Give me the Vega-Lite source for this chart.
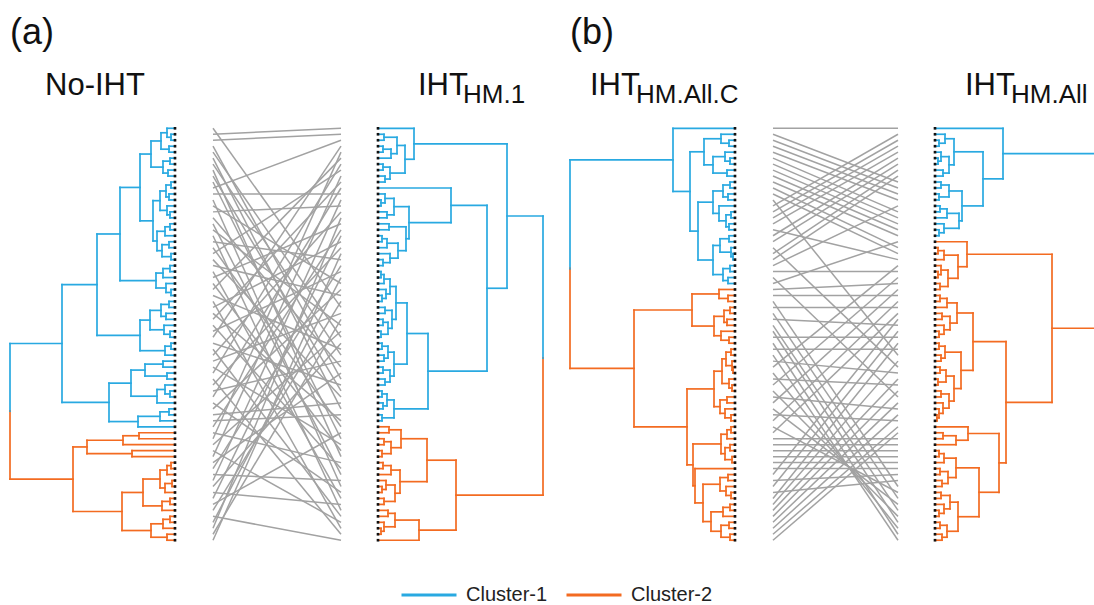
{
"$schema":"https://vega.github.io/schema/vega-lite/v6.json",
"width":1094,"height":605,"padding":0,"autosize":{"type":"none"},
"config":{"view":{"stroke":null},"legend":{"orient":"none","legendX":400,"legendY":566,"direction":"horizontal","symbolType":"stroke","symbolSize":3025,"symbolStrokeWidth":3,"labelFontSize":20,"labelFont":"Liberation Sans","labelColor":"#222","labelOffset":8,"columnPadding":12,"padding":0}},
"datasets":{
"A":[
{"h":4,"ya":1,"yb":2,"ha":0,"hb":0,"c":"Cluster-1"},
{"h":8,"ya":0,"yb":1.5,"ha":0,"hb":4,"c":"Cluster-1"},
{"h":6,"ya":3,"yb":4,"ha":0,"hb":0,"c":"Cluster-1"},
{"h":14,"ya":0.75,"yb":3.5,"ha":8,"hb":6,"c":"Cluster-1"},
{"h":5,"ya":5,"yb":6,"ha":0,"hb":0,"c":"Cluster-1"},
{"h":7,"ya":7,"yb":8,"ha":0,"hb":0,"c":"Cluster-1"},
{"h":12,"ya":5.5,"yb":7.5,"ha":5,"hb":7,"c":"Cluster-1"},
{"h":24,"ya":2.125,"yb":6.5,"ha":14,"hb":12,"c":"Cluster-1"},
{"h":4,"ya":9,"yb":10,"ha":0,"hb":0,"c":"Cluster-1"},
{"h":6,"ya":11,"yb":12,"ha":0,"hb":0,"c":"Cluster-1"},
{"h":9,"ya":9.5,"yb":11.5,"ha":4,"hb":6,"c":"Cluster-1"},
{"h":5,"ya":14,"yb":15,"ha":0,"hb":0,"c":"Cluster-1"},
{"h":8,"ya":13,"yb":14.5,"ha":0,"hb":5,"c":"Cluster-1"},
{"h":15,"ya":10.5,"yb":13.75,"ha":9,"hb":8,"c":"Cluster-1"},
{"h":5,"ya":16,"yb":17,"ha":0,"hb":0,"c":"Cluster-1"},
{"h":10,"ya":16.5,"yb":18,"ha":5,"hb":0,"c":"Cluster-1"},
{"h":6,"ya":19,"yb":20,"ha":0,"hb":0,"c":"Cluster-1"},
{"h":4,"ya":21,"yb":22,"ha":0,"hb":0,"c":"Cluster-1"},
{"h":13,"ya":19.5,"yb":21.5,"ha":6,"hb":4,"c":"Cluster-1"},
{"h":18,"ya":17.25,"yb":20.5,"ha":10,"hb":13,"c":"Cluster-1"},
{"h":22,"ya":12.125,"yb":18.875,"ha":15,"hb":18,"c":"Cluster-1"},
{"h":35,"ya":4.3125,"yb":15.5,"ha":24,"hb":22,"c":"Cluster-1"},
{"h":5,"ya":23,"yb":24,"ha":0,"hb":0,"c":"Cluster-1"},
{"h":12,"ya":23.5,"yb":25,"ha":5,"hb":0,"c":"Cluster-1"},
{"h":4,"ya":27,"yb":28,"ha":0,"hb":0,"c":"Cluster-1"},
{"h":9,"ya":26,"yb":27.5,"ha":0,"hb":4,"c":"Cluster-1"},
{"h":19,"ya":24.25,"yb":26.75,"ha":12,"hb":9,"c":"Cluster-1"},
{"h":55,"ya":9.906,"yb":25.5,"ha":35,"hb":19,"c":"Cluster-1"},
{"h":6,"ya":29,"yb":30,"ha":0,"hb":0,"c":"Cluster-1"},
{"h":9,"ya":31,"yb":32,"ha":0,"hb":0,"c":"Cluster-1"},
{"h":14,"ya":29.5,"yb":31.5,"ha":6,"hb":9,"c":"Cluster-1"},
{"h":5,"ya":34,"yb":35,"ha":0,"hb":0,"c":"Cluster-1"},
{"h":11,"ya":33,"yb":34.5,"ha":0,"hb":5,"c":"Cluster-1"},
{"h":25,"ya":30.5,"yb":33.75,"ha":14,"hb":11,"c":"Cluster-1"},
{"h":4,"ya":36,"yb":37,"ha":0,"hb":0,"c":"Cluster-1"},
{"h":10,"ya":36.5,"yb":38,"ha":4,"hb":0,"c":"Cluster-1"},
{"h":35,"ya":32.125,"yb":37.25,"ha":25,"hb":10,"c":"Cluster-1"},
{"h":78,"ya":17.703,"yb":34.688,"ha":55,"hb":35,"c":"Cluster-1"},
{"h":12,"ya":39,"yb":40,"ha":0,"hb":0,"c":"Cluster-1"},
{"h":8,"ya":41,"yb":42,"ha":0,"hb":0,"c":"Cluster-1"},
{"h":30,"ya":39.5,"yb":41.5,"ha":12,"hb":8,"c":"Cluster-1"},
{"h":5,"ya":44,"yb":45,"ha":0,"hb":0,"c":"Cluster-1"},
{"h":10,"ya":43,"yb":44.5,"ha":0,"hb":5,"c":"Cluster-1"},
{"h":18,"ya":43.75,"yb":46,"ha":10,"hb":0,"c":"Cluster-1"},
{"h":44,"ya":40.5,"yb":44.875,"ha":30,"hb":18,"c":"Cluster-1"},
{"h":6,"ya":47,"yb":48,"ha":0,"hb":0,"c":"Cluster-1"},
{"h":15,"ya":47.5,"yb":49,"ha":6,"hb":0,"c":"Cluster-1"},
{"h":37,"ya":48.25,"yb":50,"ha":15,"hb":0,"c":"Cluster-1"},
{"h":66,"ya":42.688,"yb":49.125,"ha":44,"hb":37,"c":"Cluster-1"},
{"h":113,"ya":26.196,"yb":45.906,"ha":78,"hb":66,"c":"Cluster-1"},
{"h":36,"ya":51,"yb":52,"ha":0,"hb":0,"c":"Cluster-2"},
{"h":52,"ya":51.5,"yb":53,"ha":36,"hb":0,"c":"Cluster-2"},
{"h":43,"ya":54,"yb":55,"ha":0,"hb":0,"c":"Cluster-2"},
{"h":88,"ya":52.25,"yb":54.5,"ha":52,"hb":43,"c":"Cluster-2"},
{"h":4,"ya":56,"yb":57,"ha":0,"hb":0,"c":"Cluster-2"},
{"h":8,"ya":56.5,"yb":58,"ha":4,"hb":0,"c":"Cluster-2"},
{"h":3,"ya":59,"yb":60,"ha":0,"hb":0,"c":"Cluster-2"},
{"h":10,"ya":59.5,"yb":61,"ha":3,"hb":0,"c":"Cluster-2"},
{"h":15,"ya":57.25,"yb":60.25,"ha":8,"hb":10,"c":"Cluster-2"},
{"h":5,"ya":62,"yb":63,"ha":0,"hb":0,"c":"Cluster-2"},
{"h":13,"ya":62.5,"yb":64,"ha":5,"hb":0,"c":"Cluster-2"},
{"h":32,"ya":58.75,"yb":63.25,"ha":15,"hb":13,"c":"Cluster-2"},
{"h":5,"ya":65,"yb":66,"ha":0,"hb":0,"c":"Cluster-2"},
{"h":12,"ya":65.5,"yb":67,"ha":5,"hb":0,"c":"Cluster-2"},
{"h":8,"ya":68,"yb":69,"ha":0,"hb":0,"c":"Cluster-2"},
{"h":24,"ya":66.25,"yb":68.5,"ha":12,"hb":8,"c":"Cluster-2"},
{"h":53,"ya":61,"yb":67.375,"ha":32,"hb":24,"c":"Cluster-2"},
{"h":102,"ya":53.375,"yb":64.1875,"ha":88,"hb":53,"c":"Cluster-2"},
{"h":165,"ya":36.05,"yb":47.4,"ha":113,"hb":165,"c":"Cluster-1"},
{"h":165,"ya":47.4,"yb":58.78,"ha":165,"hb":102,"c":"Cluster-2"}
],
"B":[
{"h":6,"ya":1,"yb":2,"ha":0,"hb":0,"c":"Cluster-1"},
{"h":5,"ya":3,"yb":4,"ha":0,"hb":0,"c":"Cluster-1"},
{"h":13,"ya":3.5,"yb":5,"ha":5,"hb":0,"c":"Cluster-1"},
{"h":19,"ya":1.5,"yb":4.25,"ha":6,"hb":13,"c":"Cluster-1"},
{"h":5,"ya":6,"yb":7,"ha":0,"hb":0,"c":"Cluster-1"},
{"h":7,"ya":8,"yb":9,"ha":0,"hb":0,"c":"Cluster-1"},
{"h":12,"ya":6.5,"yb":8.5,"ha":5,"hb":7,"c":"Cluster-1"},
{"h":27,"ya":2.875,"yb":7.5,"ha":19,"hb":12,"c":"Cluster-1"},
{"h":36,"ya":0,"yb":5.1875,"ha":0,"hb":27,"c":"Cluster-1"},
{"h":3,"ya":12,"yb":13,"ha":0,"hb":0,"c":"Cluster-1"},
{"h":7,"ya":11,"yb":12.5,"ha":0,"hb":3,"c":"Cluster-1"},
{"h":9,"ya":14,"yb":15,"ha":0,"hb":0,"c":"Cluster-1"},
{"h":16,"ya":11.75,"yb":14.5,"ha":7,"hb":9,"c":"Cluster-1"},
{"h":11,"ya":16,"yb":17,"ha":0,"hb":0,"c":"Cluster-1"},
{"h":4,"ya":18,"yb":19,"ha":0,"hb":0,"c":"Cluster-1"},
{"h":9,"ya":18.5,"yb":20,"ha":4,"hb":0,"c":"Cluster-1"},
{"h":5,"ya":22,"yb":23,"ha":0,"hb":0,"c":"Cluster-1"},
{"h":12,"ya":21,"yb":22.5,"ha":0,"hb":5,"c":"Cluster-1"},
{"h":20,"ya":19.25,"yb":21.75,"ha":9,"hb":12,"c":"Cluster-1"},
{"h":28,"ya":16.5,"yb":20.5,"ha":11,"hb":20,"c":"Cluster-1"},
{"h":31,"ya":13.125,"yb":18.5,"ha":16,"hb":28,"c":"Cluster-1"},
{"h":73,"ya":10,"yb":15.8125,"ha":0,"hb":31,"c":"Cluster-1"},
{"h":3,"ya":24,"yb":25,"ha":0,"hb":0,"c":"Cluster-1"},
{"h":6,"ya":24.5,"yb":26,"ha":3,"hb":0,"c":"Cluster-1"},
{"h":4,"ya":28,"yb":29,"ha":0,"hb":0,"c":"Cluster-1"},
{"h":8,"ya":27,"yb":28.5,"ha":0,"hb":4,"c":"Cluster-1"},
{"h":12,"ya":25.25,"yb":27.75,"ha":6,"hb":8,"c":"Cluster-1"},
{"h":7,"ya":30,"yb":31,"ha":0,"hb":0,"c":"Cluster-1"},
{"h":5,"ya":32,"yb":33,"ha":0,"hb":0,"c":"Cluster-1"},
{"h":3,"ya":34,"yb":35,"ha":0,"hb":0,"c":"Cluster-1"},
{"h":10,"ya":32.5,"yb":34.5,"ha":5,"hb":3,"c":"Cluster-1"},
{"h":14,"ya":30.5,"yb":33.5,"ha":7,"hb":10,"c":"Cluster-1"},
{"h":18,"ya":26.5,"yb":32,"ha":12,"hb":14,"c":"Cluster-1"},
{"h":4,"ya":36,"yb":37,"ha":0,"hb":0,"c":"Cluster-1"},
{"h":6,"ya":38,"yb":39,"ha":0,"hb":0,"c":"Cluster-1"},
{"h":10,"ya":36.5,"yb":38.5,"ha":4,"hb":6,"c":"Cluster-1"},
{"h":5,"ya":40,"yb":41,"ha":0,"hb":0,"c":"Cluster-1"},
{"h":7,"ya":42,"yb":43,"ha":0,"hb":0,"c":"Cluster-1"},
{"h":12,"ya":40.5,"yb":42.5,"ha":5,"hb":7,"c":"Cluster-1"},
{"h":16,"ya":37.5,"yb":41.5,"ha":10,"hb":12,"c":"Cluster-1"},
{"h":29,"ya":29.25,"yb":39.5,"ha":18,"hb":16,"c":"Cluster-1"},
{"h":4,"ya":44,"yb":45,"ha":0,"hb":0,"c":"Cluster-1"},
{"h":5,"ya":46,"yb":47,"ha":0,"hb":0,"c":"Cluster-1"},
{"h":9,"ya":44.5,"yb":46.5,"ha":4,"hb":5,"c":"Cluster-1"},
{"h":4,"ya":48,"yb":49,"ha":0,"hb":0,"c":"Cluster-1"},
{"h":16,"ya":45.5,"yb":48.5,"ha":9,"hb":4,"c":"Cluster-1"},
{"h":50,"ya":34.375,"yb":47,"ha":29,"hb":16,"c":"Cluster-1"},
{"h":109,"ya":12.906,"yb":40.6875,"ha":73,"hb":50,"c":"Cluster-1"},
{"h":129,"ya":2.594,"yb":26.797,"ha":36,"hb":109,"c":"Cluster-1"},
{"h":11,"ya":50,"yb":51,"ha":0,"hb":0,"c":"Cluster-2"},
{"h":6,"ya":52,"yb":53,"ha":0,"hb":0,"c":"Cluster-2"},
{"h":4,"ya":54,"yb":55,"ha":0,"hb":0,"c":"Cluster-2"},
{"h":13,"ya":52.5,"yb":54.5,"ha":6,"hb":4,"c":"Cluster-2"},
{"h":23,"ya":50.5,"yb":53.5,"ha":11,"hb":13,"c":"Cluster-2"},
{"h":5,"ya":56,"yb":57,"ha":0,"hb":0,"c":"Cluster-2"},
{"h":13,"ya":56.5,"yb":58,"ha":5,"hb":0,"c":"Cluster-2"},
{"h":4,"ya":60,"yb":61,"ha":0,"hb":0,"c":"Cluster-2"},
{"h":8,"ya":59,"yb":60.5,"ha":0,"hb":4,"c":"Cluster-2"},
{"h":6,"ya":62,"yb":63,"ha":0,"hb":0,"c":"Cluster-2"},
{"h":17,"ya":59.75,"yb":62.5,"ha":8,"hb":6,"c":"Cluster-2"},
{"h":22,"ya":57.25,"yb":61.125,"ha":13,"hb":17,"c":"Cluster-2"},
{"h":49,"ya":52,"yb":59.1875,"ha":23,"hb":22,"c":"Cluster-2"},
{"h":10,"ya":64,"yb":65,"ha":0,"hb":0,"c":"Cluster-2"},
{"h":3,"ya":67,"yb":68,"ha":0,"hb":0,"c":"Cluster-2"},
{"h":6,"ya":66,"yb":67.5,"ha":0,"hb":3,"c":"Cluster-2"},
{"h":17,"ya":64.5,"yb":66.75,"ha":10,"hb":6,"c":"Cluster-2"},
{"h":41,"ya":65.625,"yb":69,"ha":17,"hb":0,"c":"Cluster-2"},
{"h":78,"ya":55.594,"yb":67.3125,"ha":49,"hb":41,"c":"Cluster-2"},
{"h":165,"ya":14.695,"yb":38.5,"ha":129,"hb":165,"c":"Cluster-1"},
{"h":165,"ya":38.5,"yb":61.453,"ha":165,"hb":78,"c":"Cluster-2"}
],
"C":[
{"h":6,"ya":2,"yb":3,"ha":0,"hb":0,"c":"Cluster-1"},
{"h":14,"ya":1,"yb":2.5,"ha":0,"hb":6,"c":"Cluster-1"},
{"h":5,"ya":5,"yb":6,"ha":0,"hb":0,"c":"Cluster-1"},
{"h":10,"ya":4,"yb":5.5,"ha":0,"hb":5,"c":"Cluster-1"},
{"h":8,"ya":7,"yb":8,"ha":0,"hb":0,"c":"Cluster-1"},
{"h":22,"ya":4.75,"yb":7.5,"ha":10,"hb":8,"c":"Cluster-1"},
{"h":31,"ya":1.75,"yb":6.125,"ha":14,"hb":22,"c":"Cluster-1"},
{"h":5,"ya":9,"yb":10,"ha":0,"hb":0,"c":"Cluster-1"},
{"h":7,"ya":11,"yb":12,"ha":0,"hb":0,"c":"Cluster-1"},
{"h":12,"ya":9.5,"yb":11.5,"ha":5,"hb":7,"c":"Cluster-1"},
{"h":4,"ya":14,"yb":15,"ha":0,"hb":0,"c":"Cluster-1"},
{"h":6,"ya":16,"yb":17,"ha":0,"hb":0,"c":"Cluster-1"},
{"h":9,"ya":14.5,"yb":16.5,"ha":4,"hb":6,"c":"Cluster-1"},
{"h":16,"ya":13,"yb":15.5,"ha":0,"hb":9,"c":"Cluster-1"},
{"h":22,"ya":10.5,"yb":14.25,"ha":12,"hb":16,"c":"Cluster-1"},
{"h":6,"ya":18,"yb":19,"ha":0,"hb":0,"c":"Cluster-1"},
{"h":2,"ya":21,"yb":22,"ha":0,"hb":0,"c":"Cluster-1"},
{"h":4,"ya":20,"yb":21.5,"ha":0,"hb":2,"c":"Cluster-1"},
{"h":15,"ya":18.5,"yb":20.75,"ha":6,"hb":4,"c":"Cluster-1"},
{"h":5,"ya":23,"yb":24,"ha":0,"hb":0,"c":"Cluster-1"},
{"h":7,"ya":25,"yb":26,"ha":0,"hb":0,"c":"Cluster-1"},
{"h":12,"ya":23.5,"yb":25.5,"ha":5,"hb":7,"c":"Cluster-1"},
{"h":22,"ya":19.625,"yb":24.5,"ha":15,"hb":12,"c":"Cluster-1"},
{"h":37,"ya":12.375,"yb":22.0625,"ha":22,"hb":22,"c":"Cluster-1"},
{"h":45,"ya":3.9375,"yb":17.219,"ha":31,"hb":37,"c":"Cluster-1"},
{"h":62,"ya":0,"yb":10.578,"ha":0,"hb":45,"c":"Cluster-1"},
{"h":7,"ya":28,"yb":29,"ha":0,"hb":0,"c":"Cluster-2"},
{"h":16,"ya":27,"yb":28.5,"ha":0,"hb":7,"c":"Cluster-2"},
{"h":5,"ya":30,"yb":31,"ha":0,"hb":0,"c":"Cluster-2"},
{"h":8,"ya":32,"yb":33,"ha":0,"hb":0,"c":"Cluster-2"},
{"h":11,"ya":30.5,"yb":32.5,"ha":5,"hb":8,"c":"Cluster-2"},
{"h":6,"ya":35,"yb":36,"ha":0,"hb":0,"c":"Cluster-2"},
{"h":14,"ya":34,"yb":35.5,"ha":0,"hb":6,"c":"Cluster-2"},
{"h":21,"ya":31.5,"yb":34.75,"ha":11,"hb":14,"c":"Cluster-2"},
{"h":43,"ya":27.75,"yb":33.125,"ha":16,"hb":21,"c":"Cluster-2"},
{"h":4,"ya":37,"yb":38,"ha":0,"hb":0,"c":"Cluster-2"},
{"h":2,"ya":40,"yb":41,"ha":0,"hb":0,"c":"Cluster-2"},
{"h":3,"ya":39,"yb":40.5,"ha":0,"hb":2,"c":"Cluster-2"},
{"h":9,"ya":37.5,"yb":39.75,"ha":4,"hb":3,"c":"Cluster-2"},
{"h":3,"ya":43,"yb":44,"ha":0,"hb":0,"c":"Cluster-2"},
{"h":6,"ya":42,"yb":43.5,"ha":0,"hb":3,"c":"Cluster-2"},
{"h":13,"ya":38.625,"yb":42.75,"ha":9,"hb":6,"c":"Cluster-2"},
{"h":8,"ya":45,"yb":46,"ha":0,"hb":0,"c":"Cluster-2"},
{"h":4,"ya":48,"yb":49,"ha":0,"hb":0,"c":"Cluster-2"},
{"h":10,"ya":47,"yb":48.5,"ha":0,"hb":4,"c":"Cluster-2"},
{"h":15,"ya":45.5,"yb":47.75,"ha":8,"hb":10,"c":"Cluster-2"},
{"h":21,"ya":40.6875,"yb":46.625,"ha":13,"hb":15,"c":"Cluster-2"},
{"h":4,"ya":50,"yb":51,"ha":0,"hb":0,"c":"Cluster-2"},
{"h":8,"ya":50.5,"yb":52,"ha":4,"hb":0,"c":"Cluster-2"},
{"h":5,"ya":53,"yb":54,"ha":0,"hb":0,"c":"Cluster-2"},
{"h":3,"ya":55,"yb":56,"ha":0,"hb":0,"c":"Cluster-2"},
{"h":10,"ya":53.5,"yb":55.5,"ha":5,"hb":3,"c":"Cluster-2"},
{"h":14,"ya":51.25,"yb":54.5,"ha":8,"hb":10,"c":"Cluster-2"},
{"h":7,"ya":58,"yb":59,"ha":0,"hb":0,"c":"Cluster-2"},
{"h":4,"ya":61,"yb":62,"ha":0,"hb":0,"c":"Cluster-2"},
{"h":9,"ya":60,"yb":61.5,"ha":0,"hb":4,"c":"Cluster-2"},
{"h":15,"ya":58.5,"yb":60.75,"ha":7,"hb":9,"c":"Cluster-2"},
{"h":5,"ya":63,"yb":64,"ha":0,"hb":0,"c":"Cluster-2"},
{"h":12,"ya":63.5,"yb":65,"ha":5,"hb":0,"c":"Cluster-2"},
{"h":6,"ya":66,"yb":67,"ha":0,"hb":0,"c":"Cluster-2"},
{"h":5,"ya":68,"yb":69,"ha":0,"hb":0,"c":"Cluster-2"},
{"h":14,"ya":66.5,"yb":68.5,"ha":6,"hb":5,"c":"Cluster-2"},
{"h":24,"ya":64.25,"yb":67.5,"ha":12,"hb":14,"c":"Cluster-2"},
{"h":32,"ya":59.625,"yb":65.875,"ha":15,"hb":24,"c":"Cluster-2"},
{"h":40,"ya":57,"yb":62.75,"ha":0,"hb":32,"c":"Cluster-2"},
{"h":42,"ya":52.875,"yb":59.875,"ha":14,"hb":40,"c":"Cluster-2"},
{"h":48,"ya":43.656,"yb":56.375,"ha":21,"hb":42,"c":"Cluster-2"},
{"h":101,"ya":30.4375,"yb":50.016,"ha":43,"hb":48,"c":"Cluster-2"},
{"h":165,"ya":5.289,"yb":23.5,"ha":62,"hb":165,"c":"Cluster-1"},
{"h":165,"ya":23.5,"yb":40.227,"ha":165,"hb":101,"c":"Cluster-2"}
],
"D":[
{"h":4,"ya":2,"yb":3,"ha":0,"hb":0,"c":"Cluster-1"},
{"h":10,"ya":1,"yb":2.5,"ha":0,"hb":4,"c":"Cluster-1"},
{"h":3,"ya":5,"yb":6,"ha":0,"hb":0,"c":"Cluster-1"},
{"h":6,"ya":4,"yb":5.5,"ha":0,"hb":3,"c":"Cluster-1"},
{"h":8,"ya":7,"yb":8,"ha":0,"hb":0,"c":"Cluster-1"},
{"h":14,"ya":4.75,"yb":7.5,"ha":6,"hb":8,"c":"Cluster-1"},
{"h":19,"ya":1.75,"yb":6.125,"ha":10,"hb":14,"c":"Cluster-1"},
{"h":6,"ya":9,"yb":10,"ha":0,"hb":0,"c":"Cluster-1"},
{"h":4,"ya":11,"yb":12,"ha":0,"hb":0,"c":"Cluster-1"},
{"h":14,"ya":9.5,"yb":11.5,"ha":6,"hb":4,"c":"Cluster-1"},
{"h":5,"ya":13,"yb":14,"ha":0,"hb":0,"c":"Cluster-1"},
{"h":12,"ya":13.5,"yb":15,"ha":5,"hb":0,"c":"Cluster-1"},
{"h":4,"ya":17,"yb":18,"ha":0,"hb":0,"c":"Cluster-1"},
{"h":9,"ya":16,"yb":17.5,"ha":0,"hb":4,"c":"Cluster-1"},
{"h":24,"ya":14.25,"yb":16.75,"ha":12,"hb":9,"c":"Cluster-1"},
{"h":27,"ya":10.5,"yb":15.5,"ha":14,"hb":24,"c":"Cluster-1"},
{"h":48,"ya":3.9375,"yb":13,"ha":19,"hb":27,"c":"Cluster-1"},
{"h":68,"ya":0,"yb":8.469,"ha":0,"hb":48,"c":"Cluster-1"},
{"h":3,"ya":20,"yb":21,"ha":0,"hb":0,"c":"Cluster-2"},
{"h":9,"ya":20.5,"yb":22,"ha":3,"hb":0,"c":"Cluster-2"},
{"h":3,"ya":24,"yb":25,"ha":0,"hb":0,"c":"Cluster-2"},
{"h":6,"ya":23,"yb":24.5,"ha":0,"hb":3,"c":"Cluster-2"},
{"h":5,"ya":26,"yb":27,"ha":0,"hb":0,"c":"Cluster-2"},
{"h":13,"ya":23.75,"yb":26.5,"ha":6,"hb":5,"c":"Cluster-2"},
{"h":23,"ya":21.25,"yb":25.125,"ha":9,"hb":13,"c":"Cluster-2"},
{"h":32,"ya":19,"yb":23.1875,"ha":0,"hb":23,"c":"Cluster-2"},
{"h":5,"ya":28,"yb":29,"ha":0,"hb":0,"c":"Cluster-2"},
{"h":12,"ya":28.5,"yb":30,"ha":5,"hb":0,"c":"Cluster-2"},
{"h":7,"ya":31,"yb":32,"ha":0,"hb":0,"c":"Cluster-2"},
{"h":4,"ya":34,"yb":35,"ha":0,"hb":0,"c":"Cluster-2"},
{"h":9,"ya":33,"yb":34.5,"ha":0,"hb":4,"c":"Cluster-2"},
{"h":15,"ya":31.5,"yb":33.75,"ha":7,"hb":9,"c":"Cluster-2"},
{"h":22,"ya":29.25,"yb":32.625,"ha":12,"hb":15,"c":"Cluster-2"},
{"h":4,"ya":36,"yb":37,"ha":0,"hb":0,"c":"Cluster-2"},
{"h":6,"ya":38,"yb":39,"ha":0,"hb":0,"c":"Cluster-2"},
{"h":10,"ya":36.5,"yb":38.5,"ha":4,"hb":6,"c":"Cluster-2"},
{"h":5,"ya":40,"yb":41,"ha":0,"hb":0,"c":"Cluster-2"},
{"h":3,"ya":42,"yb":43,"ha":0,"hb":0,"c":"Cluster-2"},
{"h":11,"ya":40.5,"yb":42.5,"ha":5,"hb":3,"c":"Cluster-2"},
{"h":6,"ya":44,"yb":45,"ha":0,"hb":0,"c":"Cluster-2"},
{"h":2,"ya":48,"yb":49,"ha":0,"hb":0,"c":"Cluster-2"},
{"h":4,"ya":47,"yb":48.5,"ha":0,"hb":2,"c":"Cluster-2"},
{"h":8,"ya":46,"yb":47.75,"ha":0,"hb":4,"c":"Cluster-2"},
{"h":14,"ya":44.5,"yb":46.875,"ha":6,"hb":8,"c":"Cluster-2"},
{"h":19,"ya":41.5,"yb":45.6875,"ha":11,"hb":14,"c":"Cluster-2"},
{"h":26,"ya":37.5,"yb":43.594,"ha":10,"hb":19,"c":"Cluster-2"},
{"h":38,"ya":30.9375,"yb":40.547,"ha":22,"hb":26,"c":"Cluster-2"},
{"h":8,"ya":51,"yb":52,"ha":0,"hb":0,"c":"Cluster-2"},
{"h":21,"ya":51.5,"yb":53,"ha":8,"hb":0,"c":"Cluster-2"},
{"h":33,"ya":50,"yb":52.25,"ha":0,"hb":21,"c":"Cluster-2"},
{"h":4,"ya":54,"yb":55,"ha":0,"hb":0,"c":"Cluster-2"},
{"h":9,"ya":54.5,"yb":56,"ha":4,"hb":0,"c":"Cluster-2"},
{"h":5,"ya":57,"yb":58,"ha":0,"hb":0,"c":"Cluster-2"},
{"h":7,"ya":59,"yb":60,"ha":0,"hb":0,"c":"Cluster-2"},
{"h":13,"ya":57.5,"yb":59.5,"ha":5,"hb":7,"c":"Cluster-2"},
{"h":21,"ya":55.25,"yb":58.5,"ha":9,"hb":13,"c":"Cluster-2"},
{"h":6,"ya":61,"yb":62,"ha":0,"hb":0,"c":"Cluster-2"},
{"h":4,"ya":64,"yb":65,"ha":0,"hb":0,"c":"Cluster-2"},
{"h":9,"ya":63,"yb":64.5,"ha":0,"hb":4,"c":"Cluster-2"},
{"h":15,"ya":61.5,"yb":63.75,"ha":6,"hb":9,"c":"Cluster-2"},
{"h":5,"ya":66,"yb":67,"ha":0,"hb":0,"c":"Cluster-2"},
{"h":7,"ya":68,"yb":69,"ha":0,"hb":0,"c":"Cluster-2"},
{"h":12,"ya":66.5,"yb":68.5,"ha":5,"hb":7,"c":"Cluster-2"},
{"h":23,"ya":62.625,"yb":67.5,"ha":15,"hb":12,"c":"Cluster-2"},
{"h":44,"ya":56.875,"yb":65.0625,"ha":21,"hb":23,"c":"Cluster-2"},
{"h":64,"ya":51.125,"yb":60.969,"ha":33,"hb":44,"c":"Cluster-2"},
{"h":71,"ya":35.742,"yb":56.047,"ha":38,"hb":64,"c":"Cluster-2"},
{"h":117,"ya":21.094,"yb":45.895,"ha":32,"hb":71,"c":"Cluster-2"},
{"h":200,"ya":4.234,"yb":18.9,"ha":68,"hb":200,"c":"Cluster-1"},
{"h":200,"ya":18.9,"yb":33.494,"ha":200,"hb":117,"c":"Cluster-2"}
],
"t1":[
{"a":0,"b":30},{"a":1,"b":0},{"a":2,"b":1},{"a":3,"b":42},{"a":4,"b":35},{"a":5,"b":47},{"a":6,"b":38},{"a":7,"b":55},{"a":8,"b":44},{"a":9,"b":52},
{"a":10,"b":2},{"a":11,"b":11},{"a":12,"b":60},{"a":13,"b":26},{"a":14,"b":13},{"a":15,"b":40},{"a":16,"b":58},{"a":17,"b":33},{"a":18,"b":64},{"a":19,"b":22},
{"a":20,"b":50},{"a":21,"b":7},{"a":22,"b":45},{"a":23,"b":28},{"a":24,"b":62},{"a":25,"b":16},{"a":26,"b":54},{"a":27,"b":5},{"a":28,"b":37},{"a":29,"b":67},
{"a":30,"b":19},{"a":31,"b":49},{"a":32,"b":9},{"a":33,"b":57},{"a":34,"b":24},{"a":35,"b":3},{"a":36,"b":43},{"a":37,"b":65},{"a":38,"b":14},{"a":39,"b":31},
{"a":40,"b":53},{"a":41,"b":6},{"a":42,"b":68},{"a":43,"b":20},{"a":44,"b":39},{"a":45,"b":10},{"a":46,"b":61},{"a":47,"b":27},{"a":48,"b":46},{"a":49,"b":48},
{"a":50,"b":17},{"a":51,"b":56},{"a":52,"b":4},{"a":53,"b":34},{"a":54,"b":66},{"a":55,"b":8},{"a":56,"b":41},{"a":57,"b":23},{"a":58,"b":59},{"a":59,"b":12},
{"a":60,"b":36},{"a":61,"b":63},{"a":62,"b":18},{"a":63,"b":51},{"a":64,"b":29},{"a":65,"b":69},{"a":66,"b":25},{"a":67,"b":15},{"a":68,"b":32},{"a":69,"b":21}
],
"t2":[
{"a":0,"b":0},{"a":1,"b":9},{"a":2,"b":10},{"a":3,"b":11},{"a":4,"b":12},{"a":5,"b":14},{"a":6,"b":15},{"a":7,"b":16},{"a":8,"b":17},{"a":9,"b":18},
{"a":10,"b":20},{"a":11,"b":21},{"a":12,"b":38},{"a":13,"b":1},{"a":14,"b":2},{"a":15,"b":3},{"a":16,"b":4},{"a":17,"b":22},{"a":18,"b":5},{"a":19,"b":6},
{"a":20,"b":40},{"a":21,"b":7},{"a":22,"b":8},{"a":23,"b":13},{"a":24,"b":24},{"a":25,"b":45},{"a":26,"b":19},{"a":27,"b":26},{"a":28,"b":28},{"a":29,"b":60},
{"a":30,"b":30},{"a":31,"b":62},{"a":32,"b":33},{"a":33,"b":64},{"a":34,"b":66},{"a":35,"b":35},{"a":36,"b":68},{"a":37,"b":37},{"a":38,"b":69},{"a":39,"b":41},
{"a":40,"b":23},{"a":41,"b":67},{"a":42,"b":43},{"a":43,"b":25},{"a":44,"b":65},{"a":45,"b":47},{"a":46,"b":27},{"a":47,"b":63},{"a":48,"b":49},{"a":49,"b":29},
{"a":50,"b":61},{"a":51,"b":31},{"a":52,"b":52},{"a":53,"b":53},{"a":54,"b":54},{"a":55,"b":55},{"a":56,"b":56},{"a":57,"b":57},{"a":58,"b":32},{"a":59,"b":58},
{"a":60,"b":34},{"a":61,"b":59},{"a":62,"b":36},{"a":63,"b":39},{"a":64,"b":42},{"a":65,"b":44},{"a":66,"b":46},{"a":67,"b":48},{"a":68,"b":50},{"a":69,"b":51}
],
"titles":[
{"t":"A","h":165,"y":-14.2,"s":"(a)","k":"panel"},
{"t":"A","h":130,"y":-5.6,"s":"No-IHT","k":"main"},
{"t":"B","h":40,"y":-5.6,"s":"IHT","k":"main"},
{"t":"B","h":85,"y":-4.3,"s":"HM.1","k":"sub"},
{"t":"C","h":165,"y":-14.2,"s":"(b)","k":"panel"},
{"t":"C","h":145,"y":-5.6,"s":"IHT","k":"main"},
{"t":"C","h":99,"y":-4.3,"s":"HM.All.C","k":"sub"},
{"t":"D","h":30,"y":-5.6,"s":"IHT","k":"main"},
{"t":"D","h":76,"y":-4.3,"s":"HM.All","k":"sub"}
]
},
"layer":[
{"data":{"name":"t1"},"mark":{"type":"rule","color":"#A2A2A2","strokeWidth":1.5},
 "encoding":{"x":{"datum":0,"type":"quantitative","scale":{"domain":[-1.6641,6.8828],"nice":false,"zero":false},"axis":null},"x2":{"datum":1},
 "y":{"field":"a","type":"quantitative","scale":{"domain":[-21.49,79.85],"reverse":true,"nice":false,"zero":false},"axis":null},"y2":{"field":"b"}}},
{"data":{"name":"t2"},"mark":{"type":"rule","color":"#A2A2A2","strokeWidth":1.5},
 "encoding":{"x":{"datum":0,"type":"quantitative","scale":{"domain":[-6.184,2.568],"nice":false,"zero":false},"axis":null},"x2":{"datum":1},
 "y":{"field":"a","type":"quantitative","scale":{"domain":[-21.49,79.85],"reverse":true,"nice":false,"zero":false},"axis":null},"y2":{"field":"b"}}},
{"layer":[
 {"data":{"name":"A"},"mark":{"type":"rule","strokeWidth":1.7,"strokeCap":"square"},"encoding":{"x":{"field":"h","type":"quantitative","scale":{"domain":[-919,175],"reverse":true,"nice":false,"zero":false},"axis":null},"y":{"field":"ya","type":"quantitative","scale":{"domain":[-21.49,79.85],"reverse":true,"nice":false,"zero":false},"axis":null},"y2":{"field":"yb"},"color":{"field":"c","type":"nominal","scale":{"domain":["Cluster-1","Cluster-2"],"range":["#29A9E1","#F36B21"]},"legend":{"title":null}}}},
 {"data":{"name":"A"},"mark":{"type":"rule","strokeWidth":1.7,"strokeCap":"square"},"encoding":{"x":{"field":"ha","type":"quantitative","scale":{"domain":[-919,175],"reverse":true,"nice":false,"zero":false},"axis":null},"x2":{"field":"h"},"y":{"field":"ya","type":"quantitative","scale":{"domain":[-21.49,79.85],"reverse":true,"nice":false,"zero":false},"axis":null},"color":{"field":"c","type":"nominal","scale":{"domain":["Cluster-1","Cluster-2"],"range":["#29A9E1","#F36B21"]},"legend":{"title":null}}}},
 {"data":{"name":"A"},"mark":{"type":"rule","strokeWidth":1.7,"strokeCap":"square"},"encoding":{"x":{"field":"hb","type":"quantitative","scale":{"domain":[-919,175],"reverse":true,"nice":false,"zero":false},"axis":null},"x2":{"field":"h"},"y":{"field":"yb","type":"quantitative","scale":{"domain":[-21.49,79.85],"reverse":true,"nice":false,"zero":false},"axis":null},"color":{"field":"c","type":"nominal","scale":{"domain":["Cluster-1","Cluster-2"],"range":["#29A9E1","#F36B21"]},"legend":{"title":null}}}},
 {"data":{"name":"t1"},"mark":{"type":"square","size":7,"color":"#111","opacity":1},"encoding":{"x":{"datum":0,"type":"quantitative","scale":{"domain":[-919,175],"reverse":true,"nice":false,"zero":false},"axis":null},"y":{"field":"a","type":"quantitative","scale":{"domain":[-21.49,79.85],"reverse":true,"nice":false,"zero":false},"axis":null}}},
 {"data":{"name":"titles"},"transform":[{"filter":"datum.t=='A'"}],"mark":{"type":"text","align":"left","baseline":"alphabetic","font":"Liberation Sans","color":"#111"},"encoding":{"x":{"field":"h","type":"quantitative","scale":{"domain":[-919,175],"reverse":true,"nice":false,"zero":false},"axis":null},"y":{"field":"y","type":"quantitative","scale":{"domain":[-21.49,79.85],"reverse":true,"nice":false,"zero":false},"axis":null},"text":{"field":"s"},"size":{"field":"k","type":"ordinal","scale":{"domain":["panel","main","sub"],"range":[36,26,20]},"legend":null}}}
]},
{"layer":[
 {"data":{"name":"B"},"mark":{"type":"rule","strokeWidth":1.7,"strokeCap":"square"},"encoding":{"x":{"field":"h","type":"quantitative","scale":{"domain":[-378,716],"nice":false,"zero":false},"axis":null},"y":{"field":"ya","type":"quantitative","scale":{"domain":[-21.49,79.85],"reverse":true,"nice":false,"zero":false},"axis":null},"y2":{"field":"yb"},"color":{"field":"c","type":"nominal","scale":{"domain":["Cluster-1","Cluster-2"],"range":["#29A9E1","#F36B21"]},"legend":{"title":null}}}},
 {"data":{"name":"B"},"mark":{"type":"rule","strokeWidth":1.7,"strokeCap":"square"},"encoding":{"x":{"field":"ha","type":"quantitative","scale":{"domain":[-378,716],"nice":false,"zero":false},"axis":null},"x2":{"field":"h"},"y":{"field":"ya","type":"quantitative","scale":{"domain":[-21.49,79.85],"reverse":true,"nice":false,"zero":false},"axis":null},"color":{"field":"c","type":"nominal","scale":{"domain":["Cluster-1","Cluster-2"],"range":["#29A9E1","#F36B21"]},"legend":{"title":null}}}},
 {"data":{"name":"B"},"mark":{"type":"rule","strokeWidth":1.7,"strokeCap":"square"},"encoding":{"x":{"field":"hb","type":"quantitative","scale":{"domain":[-378,716],"nice":false,"zero":false},"axis":null},"x2":{"field":"h"},"y":{"field":"yb","type":"quantitative","scale":{"domain":[-21.49,79.85],"reverse":true,"nice":false,"zero":false},"axis":null},"color":{"field":"c","type":"nominal","scale":{"domain":["Cluster-1","Cluster-2"],"range":["#29A9E1","#F36B21"]},"legend":{"title":null}}}},
 {"data":{"name":"t1"},"mark":{"type":"square","size":7,"color":"#111","opacity":1},"encoding":{"x":{"datum":0,"type":"quantitative","scale":{"domain":[-378,716],"nice":false,"zero":false},"axis":null},"y":{"field":"b","type":"quantitative","scale":{"domain":[-21.49,79.85],"reverse":true,"nice":false,"zero":false},"axis":null}}},
 {"data":{"name":"titles"},"transform":[{"filter":"datum.t=='B'"}],"mark":{"type":"text","align":"left","baseline":"alphabetic","font":"Liberation Sans","color":"#111"},"encoding":{"x":{"field":"h","type":"quantitative","scale":{"domain":[-378,716],"nice":false,"zero":false},"axis":null},"y":{"field":"y","type":"quantitative","scale":{"domain":[-21.49,79.85],"reverse":true,"nice":false,"zero":false},"axis":null},"text":{"field":"s"},"size":{"field":"k","type":"ordinal","scale":{"domain":["panel","main","sub"],"range":[36,26,20]},"legend":null}}}
]},
{"layer":[
 {"data":{"name":"C"},"mark":{"type":"rule","strokeWidth":1.7,"strokeCap":"square"},"encoding":{"x":{"field":"h","type":"quantitative","scale":{"domain":[-359,735],"reverse":true,"nice":false,"zero":false},"axis":null},"y":{"field":"ya","type":"quantitative","scale":{"domain":[-21.49,79.85],"reverse":true,"nice":false,"zero":false},"axis":null},"y2":{"field":"yb"},"color":{"field":"c","type":"nominal","scale":{"domain":["Cluster-1","Cluster-2"],"range":["#29A9E1","#F36B21"]},"legend":{"title":null}}}},
 {"data":{"name":"C"},"mark":{"type":"rule","strokeWidth":1.7,"strokeCap":"square"},"encoding":{"x":{"field":"ha","type":"quantitative","scale":{"domain":[-359,735],"reverse":true,"nice":false,"zero":false},"axis":null},"x2":{"field":"h"},"y":{"field":"ya","type":"quantitative","scale":{"domain":[-21.49,79.85],"reverse":true,"nice":false,"zero":false},"axis":null},"color":{"field":"c","type":"nominal","scale":{"domain":["Cluster-1","Cluster-2"],"range":["#29A9E1","#F36B21"]},"legend":{"title":null}}}},
 {"data":{"name":"C"},"mark":{"type":"rule","strokeWidth":1.7,"strokeCap":"square"},"encoding":{"x":{"field":"hb","type":"quantitative","scale":{"domain":[-359,735],"reverse":true,"nice":false,"zero":false},"axis":null},"x2":{"field":"h"},"y":{"field":"yb","type":"quantitative","scale":{"domain":[-21.49,79.85],"reverse":true,"nice":false,"zero":false},"axis":null},"color":{"field":"c","type":"nominal","scale":{"domain":["Cluster-1","Cluster-2"],"range":["#29A9E1","#F36B21"]},"legend":{"title":null}}}},
 {"data":{"name":"t2"},"mark":{"type":"square","size":7,"color":"#111","opacity":1},"encoding":{"x":{"datum":0,"type":"quantitative","scale":{"domain":[-359,735],"reverse":true,"nice":false,"zero":false},"axis":null},"y":{"field":"a","type":"quantitative","scale":{"domain":[-21.49,79.85],"reverse":true,"nice":false,"zero":false},"axis":null}}},
 {"data":{"name":"titles"},"transform":[{"filter":"datum.t=='C'"}],"mark":{"type":"text","align":"left","baseline":"alphabetic","font":"Liberation Sans","color":"#111"},"encoding":{"x":{"field":"h","type":"quantitative","scale":{"domain":[-359,735],"reverse":true,"nice":false,"zero":false},"axis":null},"y":{"field":"y","type":"quantitative","scale":{"domain":[-21.49,79.85],"reverse":true,"nice":false,"zero":false},"axis":null},"text":{"field":"s"},"size":{"field":"k","type":"ordinal","scale":{"domain":["panel","main","sub"],"range":[36,26,20]},"legend":null}}}
]},
{"layer":[
 {"data":{"name":"D"},"mark":{"type":"rule","strokeWidth":1.7,"strokeCap":"square"},"encoding":{"x":{"field":"h","type":"quantitative","scale":{"domain":[-935,159],"nice":false,"zero":false},"axis":null},"y":{"field":"ya","type":"quantitative","scale":{"domain":[-21.49,79.85],"reverse":true,"nice":false,"zero":false},"axis":null},"y2":{"field":"yb"},"color":{"field":"c","type":"nominal","scale":{"domain":["Cluster-1","Cluster-2"],"range":["#29A9E1","#F36B21"]},"legend":{"title":null}}}},
 {"data":{"name":"D"},"mark":{"type":"rule","strokeWidth":1.7,"strokeCap":"square"},"encoding":{"x":{"field":"ha","type":"quantitative","scale":{"domain":[-935,159],"nice":false,"zero":false},"axis":null},"x2":{"field":"h"},"y":{"field":"ya","type":"quantitative","scale":{"domain":[-21.49,79.85],"reverse":true,"nice":false,"zero":false},"axis":null},"color":{"field":"c","type":"nominal","scale":{"domain":["Cluster-1","Cluster-2"],"range":["#29A9E1","#F36B21"]},"legend":{"title":null}}}},
 {"data":{"name":"D"},"mark":{"type":"rule","strokeWidth":1.7,"strokeCap":"square"},"encoding":{"x":{"field":"hb","type":"quantitative","scale":{"domain":[-935,159],"nice":false,"zero":false},"axis":null},"x2":{"field":"h"},"y":{"field":"yb","type":"quantitative","scale":{"domain":[-21.49,79.85],"reverse":true,"nice":false,"zero":false},"axis":null},"color":{"field":"c","type":"nominal","scale":{"domain":["Cluster-1","Cluster-2"],"range":["#29A9E1","#F36B21"]},"legend":{"title":null}}}},
 {"data":{"name":"t2"},"mark":{"type":"square","size":7,"color":"#111","opacity":1},"encoding":{"x":{"datum":0,"type":"quantitative","scale":{"domain":[-935,159],"nice":false,"zero":false},"axis":null},"y":{"field":"b","type":"quantitative","scale":{"domain":[-21.49,79.85],"reverse":true,"nice":false,"zero":false},"axis":null}}},
 {"data":{"name":"titles"},"transform":[{"filter":"datum.t=='D'"}],"mark":{"type":"text","align":"left","baseline":"alphabetic","font":"Liberation Sans","color":"#111"},"encoding":{"x":{"field":"h","type":"quantitative","scale":{"domain":[-935,159],"nice":false,"zero":false},"axis":null},"y":{"field":"y","type":"quantitative","scale":{"domain":[-21.49,79.85],"reverse":true,"nice":false,"zero":false},"axis":null},"text":{"field":"s"},"size":{"field":"k","type":"ordinal","scale":{"domain":["panel","main","sub"],"range":[36,26,20]},"legend":null}}}
]}
],
"resolve":{"scale":{"x":"independent"}}
}
